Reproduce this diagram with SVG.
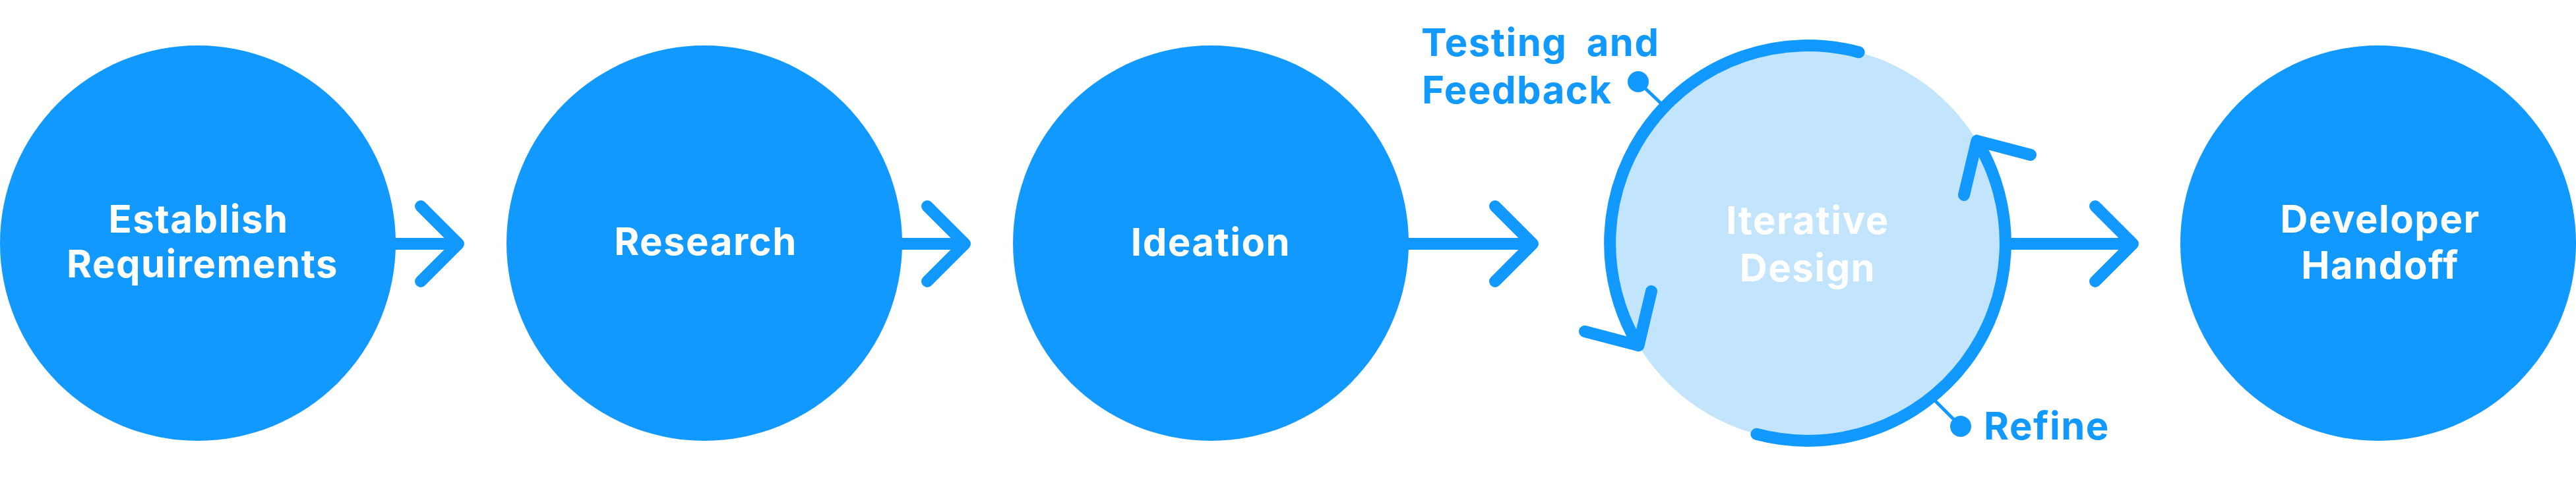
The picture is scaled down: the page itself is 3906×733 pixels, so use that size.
<svg xmlns="http://www.w3.org/2000/svg" width="3906" height="733" viewBox="0 0 3906 733">
<style>
.node{fill:#1199FF}
.light{fill:#C2E5FD}
.lbl{font-family:Inter,"Liberation Sans",sans-serif;font-weight:700;font-size:58px;letter-spacing:1.5px;fill:#FFFFFF;text-anchor:middle}
.side{font-family:Inter,"Liberation Sans",sans-serif;font-weight:700;font-size:58px;letter-spacing:1.5px;fill:#1199FF}
.conn{fill:none;stroke:#1199FF;stroke-width:18;stroke-linecap:round;stroke-linejoin:round}
.lead{fill:none;stroke:#1199FF;stroke-width:5}
.dot{fill:#1199FF}
</style>
<rect width="3906" height="733" fill="#FFFFFF"/>
<g id="connectors">
<path class="conn" d="M600 370H695M638 313L695 370L638 427"/>
<path class="conn" d="M1368 370H1463M1406 313L1463 370L1406 427"/>
<path class="conn" d="M2136 370H2324M2267 313L2324 370L2267 427"/>
<path class="conn" d="M3050 370H3234M3177 313L3234 370L3177 427"/>
</g>
<g id="node-establish">
<circle class="node" cx="300" cy="369" r="300"/>
<text class="lbl" x="301" y="353">Establish</text>
<text class="lbl" x="307" y="421">Requirements</text>
</g>
<g id="node-research">
<circle class="node" cx="1068" cy="369" r="300"/>
<text class="lbl" x="1070" y="387">Research</text>
</g>
<g id="node-ideation">
<circle class="node" cx="1836" cy="369" r="300"/>
<text class="lbl" x="1836" y="388">Ideation</text>
</g>
<g id="node-iterative">
<circle class="light" cx="2741" cy="369" r="300"/>
<path class="lead" d="M2484 124L2525 163"/>
<circle class="dot" cx="2484" cy="124" r="16"/>
<path class="lead" d="M2973 647L2926 600"/>
<circle class="dot" cx="2973" cy="647" r="16"/>
<path class="conn" d="M2818.6 79.2A300 300 0 0 0 2484.5 524.4M2504 442L2484.5 524.4L2403 503"/>
<path class="conn" d="M2663.4 658.8A300 300 0 0 0 2997.5 213.6M2978 296L2997.5 213.6L3079 235"/>
<text class="lbl" x="2741" y="355">Iterative</text>
<text class="lbl" x="2741" y="427">Design</text>
</g>
<g id="label-testing">
<text class="side" x="2155" y="85" word-spacing="14">Testing and</text>
<text class="side" x="2156" y="157">Feedback</text>
</g>
<g id="label-refine">
<text class="side" x="3008" y="667">Refine</text>
</g>
<g id="node-developer">
<circle class="node" cx="3606" cy="369" r="300"/>
<text class="lbl" x="3609" y="353">Developer</text>
<text class="lbl" x="3609" y="423">Handoff</text>
</g>
</svg>
